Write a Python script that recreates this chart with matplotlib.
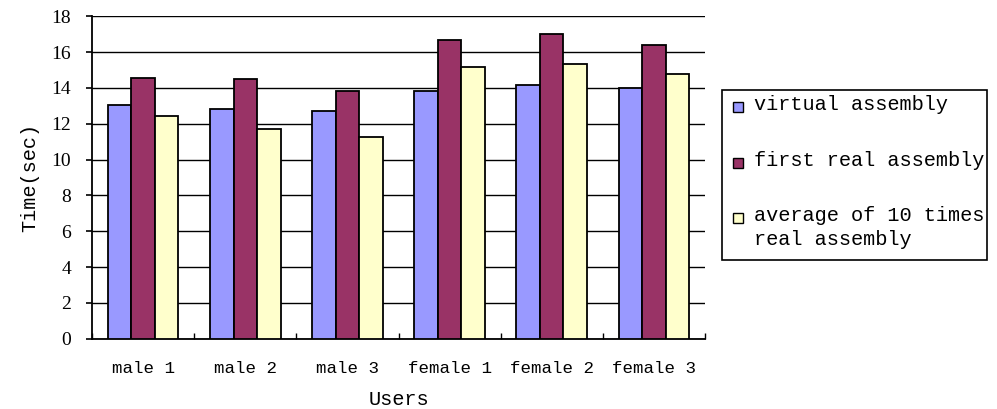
import numpy as np
import matplotlib.pyplot as plt
from matplotlib.patches import Rectangle

users = ['male 1', 'male 2', 'male 3', 'female 1', 'female 2', 'female 3']
series_names = ['virtual assembly', 'first real assembly',
                'average of 10 times\nreal assembly']
virtual = [13.05, 12.82, 12.72, 13.83, 14.16, 14.0]
first_real = [14.57, 14.5, 13.83, 16.7, 17.03, 16.38]
avg_real = [12.45, 11.7, 11.27, 15.17, 15.34, 14.76]
colors = ['#9999FF', '#993366', '#FFFFCC']

font = 'Liberation Mono'

fig = plt.figure(figsize=(9.97, 4.09), dpi=100)
ax = fig.add_axes([0.0923, 0.172, 0.6148, 0.788])

x = np.arange(len(users))
w = 0.23
for i, vals in enumerate([virtual, first_real, avg_real]):
    ax.bar(x + (i - 1) * w, vals, w, color=colors[i], edgecolor='black',
           linewidth=1.3, zorder=3)

ax.set_ylim(0, 18)
ax.set_xlim(-0.5, len(users) - 0.5)
ax.set_yticks(np.arange(0, 19, 2))
ax.yaxis.grid(True, color='black', linewidth=1.0, zorder=0)
ax.set_axisbelow(True)

ax.set_xticks(x)
ax.set_xticklabels(users, fontfamily=font, fontsize=12.6)
ax.set_xticks(np.arange(-0.5, len(users), 1), minor=True)
ax.tick_params(axis='x', which='major', length=0, pad=16)
ax.tick_params(axis='x', which='minor', direction='in', length=4, width=1)
ax.tick_params(axis='y', direction='out', length=4, width=1.2, pad=11)
for lbl in ax.get_yticklabels():
    lbl.set_fontfamily('Liberation Serif')
    lbl.set_fontsize(14)

for s in ['top', 'right']:
    ax.spines[s].set_visible(False)
ax.spines['left'].set_linewidth(1.3)
ax.spines['bottom'].set_linewidth(1.3)

ax.set_ylabel('Time(sec)', fontfamily=font, fontsize=14.6, labelpad=9)
ax.set_xlabel('Users', fontfamily=font, fontsize=14.6, labelpad=10)

# legend box on the right, drawn in figure pixels
W, H = 997, 409
def fx(px):
    return px / W
def fy(py):
    return 1 - py / H

fig.patches.append(Rectangle((fx(722), fy(260)), fx(987) - fx(722),
                             fy(90) - fy(260), transform=fig.transFigure,
                             facecolor='white', edgecolor='black',
                             linewidth=1.2))
rows = [107, 163, 218]
for c, name, yy in zip(colors, series_names, rows):
    fig.patches.append(Rectangle((fx(733), fy(yy + 5)), fx(743) - fx(733),
                                 fy(yy - 5) - fy(yy + 5),
                                 transform=fig.transFigure, facecolor=c,
                                 edgecolor='black', linewidth=1.0))
    fig.text(fx(754), fy(yy - 12), name, fontfamily=font, fontsize=14.6,
             va='top', ha='left', linespacing=1.35)

fig.savefig('out.png', dpi=100)
